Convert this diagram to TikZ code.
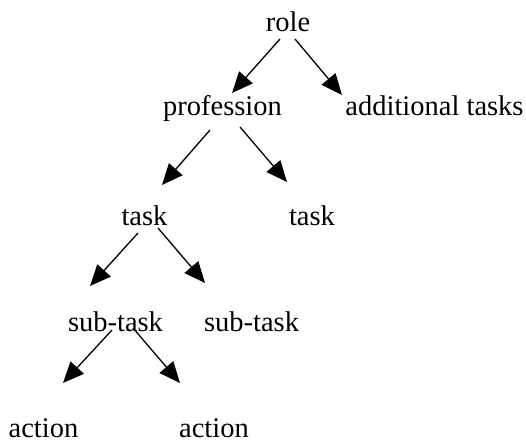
\documentclass[tikz,border=0pt]{standalone}
\usepackage{fontspec}
\setmainfont{Liberation Serif}
\usetikzlibrary{arrows.meta}
\begin{document}
\begin{tikzpicture}[x=1pt,y=-1pt,
  lbl/.style={anchor=base,inner sep=0pt,font=\fontsize{28.5}{34}\selectfont},
  arr/.style={line width=1.3pt,-{Triangle[length=21pt,width=18pt]}}]
\useasboundingbox (0,0) rectangle (526,440);
\node[lbl] (role) at (288,31) {role};
\node[lbl] (prof) at (222.5,115) {profession};
\node[lbl] (add) at (434.5,115) {additional tasks};
\node[lbl] (taskL) at (144.5,225) {task};
\node[lbl] (taskR) at (312,225) {task};
\node[lbl] (subL) at (115.5,331) {sub-task};
\node[lbl] (subR) at (251.5,331) {sub-task};
\node[lbl] (actL) at (43.5,437) {action};
\node[lbl] (actR) at (214,437) {action};
\draw[arr] ([shift={(-8,8)}]role.base) -- ([shift={(9.5,-22)}]prof.base);
\draw[arr] ([shift={(7,8)}]role.base) -- ([shift={(-92.5,-20)}]add.base);
\draw[arr] ([shift={(-12.5,15)}]prof.base) -- ([shift={(17.5,-40)}]taskL.base);
\draw[arr] ([shift={(17.5,12)}]prof.base) -- ([shift={(-25,-43)}]taskR.base);
\draw[arr] ([shift={(-6.5,8)}]taskL.base) -- ([shift={(-25.5,-45)}]subL.base);
\draw[arr] ([shift={(13.5,3)}]taskL.base) -- ([shift={(-46.5,-48)}]subR.base);
\draw[arr] ([shift={(-3.5,-1)}]subL.base) -- ([shift={(19.5,-54)}]actL.base);
\draw[arr] ([shift={(17.5,-3)}]subL.base) -- ([shift={(-34,-54)}]actR.base);
\end{tikzpicture}
\end{document}
